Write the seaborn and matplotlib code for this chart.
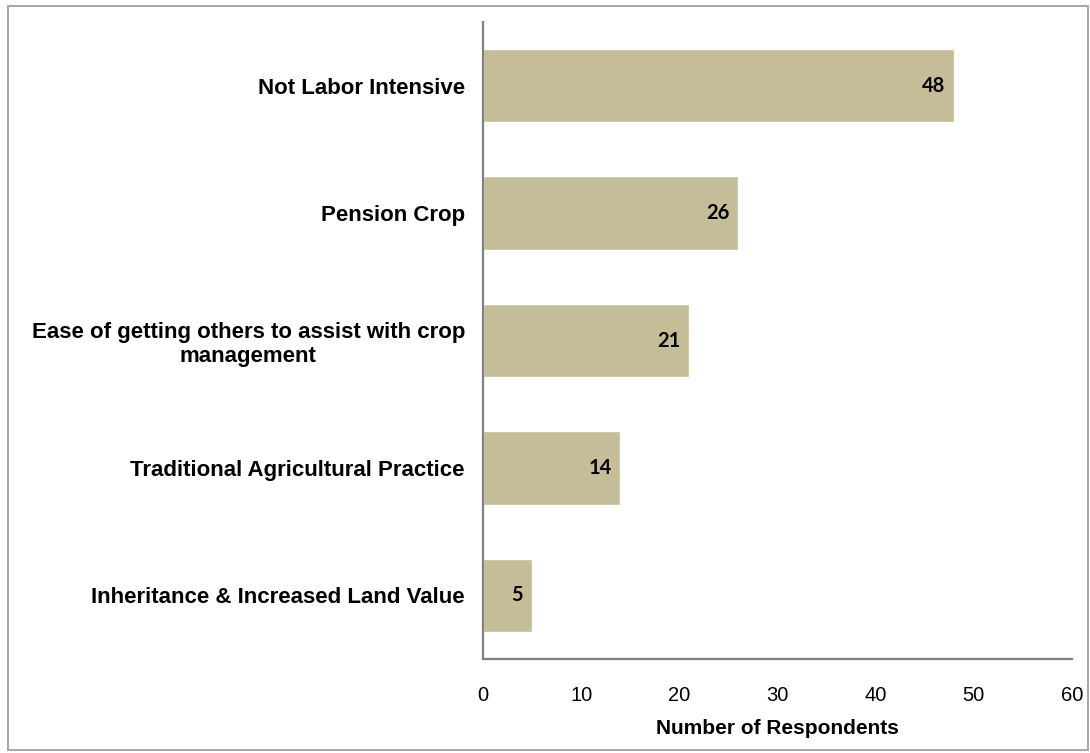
import matplotlib
matplotlib.use("Agg")
import matplotlib.pyplot as plt
import seaborn as sns
import pandas as pd
from matplotlib.patches import Rectangle

# Survey results: reasons respondents gave
reasons = [
    "Not Labor Intensive",
    "Pension Crop",
    "Ease of getting others to assist with crop\nmanagement",
    "Traditional Agricultural Practice",
    "Inheritance & Increased Land Value",
]
respondents = [48, 26, 21, 14, 5]
x_ticks = [0, 10, 20, 30, 40, 50, 60]

df = pd.DataFrame({"reason": reasons, "count": respondents})

sns.set_theme(style="white")
plt.rcParams["font.family"] = ["Liberation Sans", "DejaVu Sans"]

fig = plt.figure(figsize=(10.9, 7.53), dpi=100)
ax = fig.add_axes([0.4431, 0.1248, 0.5404, 0.846])

bar_color = "#C4BD97"
sns.barplot(data=df, x="count", y="reason", orient="h", color=bar_color,
            width=0.575, saturation=1, ax=ax)

ax.set_xlim(0, 60)
ax.set_ylim(4.5, -0.5)
ax.set_xticks(x_ticks)
ax.set_xticklabels([str(t) for t in x_ticks], fontsize=14.5, color="black")
ax.tick_params(axis="x", length=0, pad=19.5)
ax.tick_params(axis="y", length=0, pad=13)
for lab in ax.get_yticklabels():
    lab.set_fontsize(16)
    lab.set_fontweight("bold")
    lab.set_multialignment("center")
    lab.set_color("black")

ax.set_ylabel("")
ax.set_xlabel("Number of Respondents", fontsize=15, fontweight="bold",
              labelpad=10, color="black")

for side in ["top", "right"]:
    ax.spines[side].set_visible(False)
for side in ["left", "bottom"]:
    ax.spines[side].set_color("#808080")
    ax.spines[side].set_linewidth(1.6)

# Value labels inside the bar ends
for i, v in enumerate(respondents):
    ax.text(v - 0.9, i, str(v), ha="right", va="center", fontsize=14.5,
            fontweight="bold", color="black", family=["Lato", "DejaVu Sans"])

# Chart area border
fig.patches.append(Rectangle((8 / 1090, 3 / 753), 1 - 10 / 1090, 1 - 9 / 753,
                             transform=fig.transFigure, fill=False,
                             edgecolor="#A6A6A6", linewidth=1.4))

fig.savefig("out.png", dpi=100)
